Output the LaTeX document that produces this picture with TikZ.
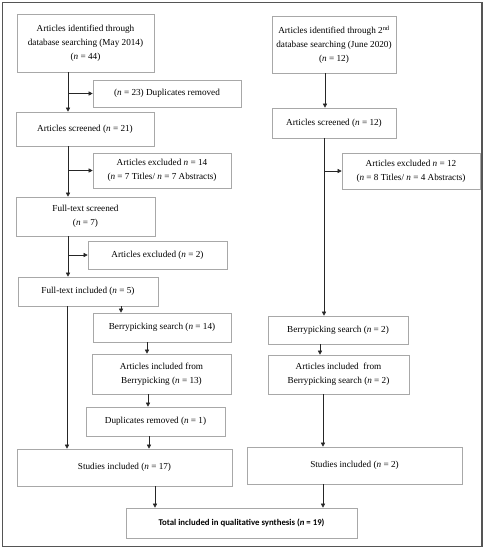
\documentclass[tikz,border=0pt]{standalone}
\usepackage{fontspec}
\setmainfont{Liberation Serif}
\newfontfamily\calib{Carlito}
\usetikzlibrary{arrows.meta}
\definecolor{boxgray}{HTML}{A8A8A8}
\definecolor{framegray}{HTML}{555555}
\tikzset{
  box/.style={draw=boxgray, line width=0.6pt, align=center, inner sep=1pt, font=\fontsize{9.2}{13.8}\selectfont},
  arr/.style={draw=black!85, line width=0.55pt, -{Triangle[width=4.2pt,length=4.2pt]}},
  ln/.style={draw=black!85, line width=0.55pt}
}
\newcommand{\nn}{\textit{n}}
\begin{document}
\begin{tikzpicture}[x=1pt,y=-1pt]
\useasboundingbox (0,0) rectangle (485,550);
\draw[framegray, line width=1.8pt] (2.5,2.5) rectangle (482,546.5);

% left column
\node[box, minimum width=137, minimum height=58] (a1) at (85.5,43) {Articles identified through\\database searching (May 2014)\\(\nn{} = 44)};
\node[box, minimum width=148, minimum height=27] (d1) at (167,93.5) {(\nn{} = 23) Duplicates removed};
\node[box, minimum width=138, minimum height=34] (s1) at (85,129) {Articles screened (\nn{} = 21)};
\node[box, minimum width=138, minimum height=35] (e1) at (162,170.5) {Articles excluded \nn{} = 14\\(\nn{} = 7 Titles/ \nn{} = 7 Abstracts)};
\node[box, minimum width=139, minimum height=39] (f1) at (85.5,216.5) {Full-text screened\\(\nn{} = 7)};
\node[box, minimum width=139, minimum height=28] (ex2) at (157.5,255) {Articles excluded (\nn{} = 2)};
\node[box, minimum width=140, minimum height=29] (fi) at (88,291.5) {Full-text included (\nn{} = 5)};
\node[box, minimum width=138, minimum height=29] (b1) at (162,327.5) {Berrypicking search (\nn{} = 14)};
\node[box, minimum width=139, minimum height=40] (ai1) at (161.5,374) {Articles included from\\Berrypicking (\nn{} = 13)};
\node[box, minimum width=139, minimum height=29] (dr) at (155.5,421.5) {Duplicates removed (\nn{} = 1)};
\node[box, minimum width=215, minimum height=37] (si1) at (124.5,467.5) {Studies included (\nn{} = 17)};

% right column
\node[box, minimum width=124, minimum height=57] (a2) at (334,44.5) {Articles identified through 2\textsuperscript{nd}\\database searching (June 2020)\\(\nn{} = 12)};
\node[box, minimum width=124, minimum height=30] (s2) at (334,123) {Articles screened (\nn{} = 12)};
\node[box, minimum width=138, minimum height=36] (e2) at (411,171) {Articles excluded \nn{} = 12\\(\nn{} = 8 Titles/ \nn{} = 4 Abstracts)};
\node[box, minimum width=140, minimum height=28] (b2) at (338,330) {Berrypicking search (\nn{} = 2)};
\node[box, minimum width=141, minimum height=39] (ai2) at (338.5,374.5) {Articles included\ \ from\\Berrypicking search (\nn{} = 2)};
\node[box, minimum width=215, minimum height=37] (si2) at (354.5,465.5) {Studies included (\nn{} = 2)};

\node[box, minimum width=231, minimum height=30, font=\calib\bfseries\fontsize{8.8}{10}\selectfont] (tot) at (241.5,523) {Total included in qualitative synthesis (\textit{n} = 19)};

% guide coordinates
\coordinate (xl) at (68,0);
\coordinate (xfi) at (67,0);
\coordinate (xb1) at (121,0);
\coordinate (xai1) at (147,0);
\coordinate (xdr) at (148,0);
\coordinate (xsi1) at (149,0);
\coordinate (xtot1) at (155,0);
\coordinate (xa2) at (325,0);
\coordinate (xs2) at (324,0);
\coordinate (xb2) at (320,0);
\coordinate (xai2) at (323,0);

% left connectors
\draw[arr] (a1.south -| xl) -- (s1.north -| xl);
\draw[arr] (d1.west -| xl) -- (d1.west);
\draw[arr] (s1.south -| xl) -- (f1.north -| xl);
\draw[arr] (e1.west -| xl) -- (e1.west);
\draw[arr] (f1.south -| xl) -- (fi.north -| xl);
\draw[arr] (ex2.west -| xl) -- (ex2.west);
\draw[arr] (fi.south -| xfi) -- (si1.north -| xfi);
\draw[arr] (fi.south -| xb1) -- (b1.north -| xb1);
\draw[arr] (b1.south -| xai1) -- (ai1.north -| xai1);
\draw[arr] (ai1.south -| xdr) -- (dr.north -| xdr);
\draw[arr] (dr.south -| xsi1) -- (si1.north -| xsi1);
\draw[arr] (si1.south -| xtot1) -- (tot.north -| xtot1);

% right connectors
\draw[arr] (a2.south -| xa2) -- (s2.north -| xa2);
\draw[arr] (s2.south -| xs2) -- (b2.north -| xs2);
\draw[arr] (e2.west -| xs2) -- (e2.west);
\draw[arr] (b2.south -| xb2) -- (ai2.north -| xb2);
\draw[arr] (ai2.south -| xai2) -- (si2.north -| xai2);
\draw[arr] (si2.south -| xai2) -- (tot.north -| xai2);
\end{tikzpicture}
\end{document}
